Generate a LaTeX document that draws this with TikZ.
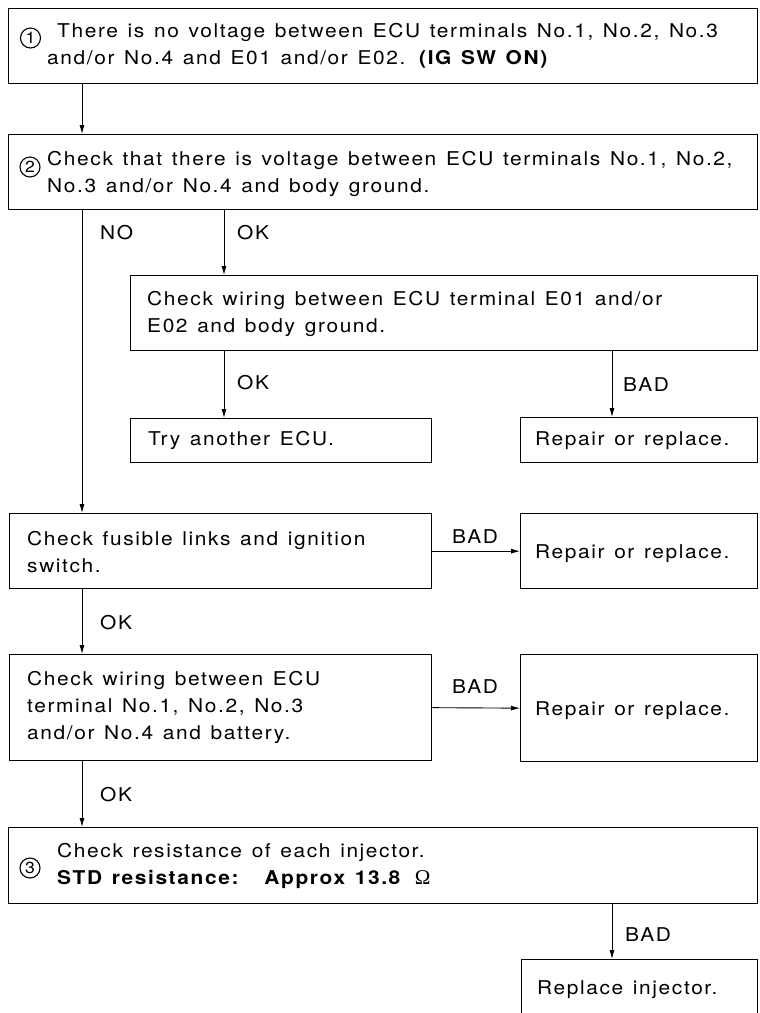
\documentclass[tikz,border=0pt]{standalone}
\usepackage{fontspec}
\setmainfont{TeX Gyre Heros}[FakeStretch=1.1,LetterSpace=8.5,WordSpace=1.3]
\newfontfamily\omegafont{Liberation Serif}
\usetikzlibrary{arrows.meta}
\begin{document}
\begin{tikzpicture}[x=1pt,y=-1pt,
  font=\fontsize{19}{27}\selectfont,
  frame/.style={draw,line width=1.3pt,anchor=north west,inner sep=0pt},
  txt/.style={anchor=west,align=left,inner sep=0pt},
  lbl/.style={anchor=west,inner sep=0pt},
  num/.style={circle,draw,line width=1.1pt,inner sep=0pt,minimum size=20pt,font=\fontsize{16}{16}\selectfont},
  arr/.style={line width=0.9pt,-{Latex[length=9pt,width=5pt]}}]
\useasboundingbox (0,0) rectangle (760,1013);
\fill[white] (0,0) rectangle (760,1013);
\clip (0,0) rectangle (760,1013);
% columns
\coordinate (c1) at (82,0);
\coordinate (c2) at (224,0);
\coordinate (c3) at (612,0);
% boxes
\node[frame,minimum width=749pt,minimum height=75pt] (b1) at (8,8) {};
\node[txt] (t1) at ([xshift=39pt]b1.west) {\hspace*{10pt}There is no voltage between ECU terminals No.1, No.2, No.3\\and/or No.4 and E01 and/or E02. \textbf{(IG SW ON)}};
\node[num] (n1) at (30.5,38) {1};

\node[frame,minimum width=749pt,minimum height=75pt] (b2) at (8,134) {};
\node[txt] (t2) at ([xshift=39pt,yshift=-2pt]b2.west) {Check that there is voltage between ECU terminals No.1, No.2,\\No.3 and/or No.4 and body ground.};
\node[num] (n2) at (30,167) {2};

\node[frame,minimum width=627pt,minimum height=75pt] (b3) at (130,275) {};
\node[txt] (t3) at ([xshift=17pt,yshift=-1pt]b3.west) {Check wiring between ECU terminal E01 and/or\\E02 and body ground.};

\node[frame,minimum width=301pt,minimum height=44pt] (b4) at (130,418) {};
\node[txt] (t4) at ([xshift=18pt]b4.west) {Try another ECU.};

\node[frame,minimum width=237pt,minimum height=45pt] (b5) at (520,417) {};
\node[txt] (t5) at ([xshift=15pt]b5.west) {Repair or replace.};

\node[frame,minimum width=422pt,minimum height=75pt] (b6) at (9,513) {};
\node[txt] (t6) at ([xshift=18pt,yshift=-1pt]b6.west) {Check fusible links and ignition\\switch.};
\node[frame,minimum width=237pt,minimum height=75pt] (b7) at (520,513) {};
\node[txt] (t7) at ([xshift=15pt,yshift=-2pt]b7.west) {Repair or replace.};

\node[frame,minimum width=422pt,minimum height=106pt] (b8) at (9,654) {};
\node[txt] (t8) at ([xshift=18pt]b8.west) {Check wiring between ECU\\terminal No.1, No.2, No.3\\and/or No.4 and battery.};
\node[frame,minimum width=237pt,minimum height=107pt] (b9) at (520,654) {};
\node[txt] (t9) at ([xshift=15pt,yshift=-2pt]b9.west) {Repair or replace.};

\node[frame,minimum width=749pt,minimum height=76pt] (b10) at (8,827) {};
\node[txt] (t10) at ([xshift=49pt]b10.west) {Check resistance of each injector.\\\textbf{STD resistance:\hspace{26pt}Approx 13.8}\hspace{13pt}{\omegafont\fontsize{21}{27}\selectfont Ω}};
\node[num] (n3) at (30,868) {3};

\node[frame,minimum width=236pt,minimum height=80pt] (b11) at (521,959) {};
\node[txt] (t11) at (537,990) {Replace injector.};

% connectors
\draw[arr] (b1.south -| c1) -- (b2.north -| c1);
\draw[arr] (b2.south -| c1) -- (b6.north -| c1);
\draw[arr] (b2.south -| c2) -- (b3.north -| c2);
\draw[arr] (b3.south -| c2) -- (b4.north -| c2);
\draw[arr] (b3.south -| c3) -- (b5.north -| c3);
\draw[arr] (b6.east) -- (b7.west);
\draw[arr] (b6.south -| c1) -- (b8.north -| c1);
\draw[arr] (b8.east) -- (b9.west);
\draw[arr] (b8.south -| c1) -- (b10.north -| c1);
\draw[arr] (b10.south -| c3) -- (b11.north -| c3);
% labels
\node[lbl] (l1) at (100,233) {NO};
\node[lbl] (l2) at (237,233) {OK};
\node[lbl] (l3) at (237,383) {OK};
\node[lbl] (l4) at (623,385) {BAD};
\node[lbl] (l5) at (452,537) {BAD};
\node[lbl] (l6) at (452,687) {BAD};
\node[lbl] (l7) at (100,623) {OK};
\node[lbl] (l8) at (100,795) {OK};
\node[lbl] (l9) at (625,935) {BAD};
\end{tikzpicture}
\end{document}
